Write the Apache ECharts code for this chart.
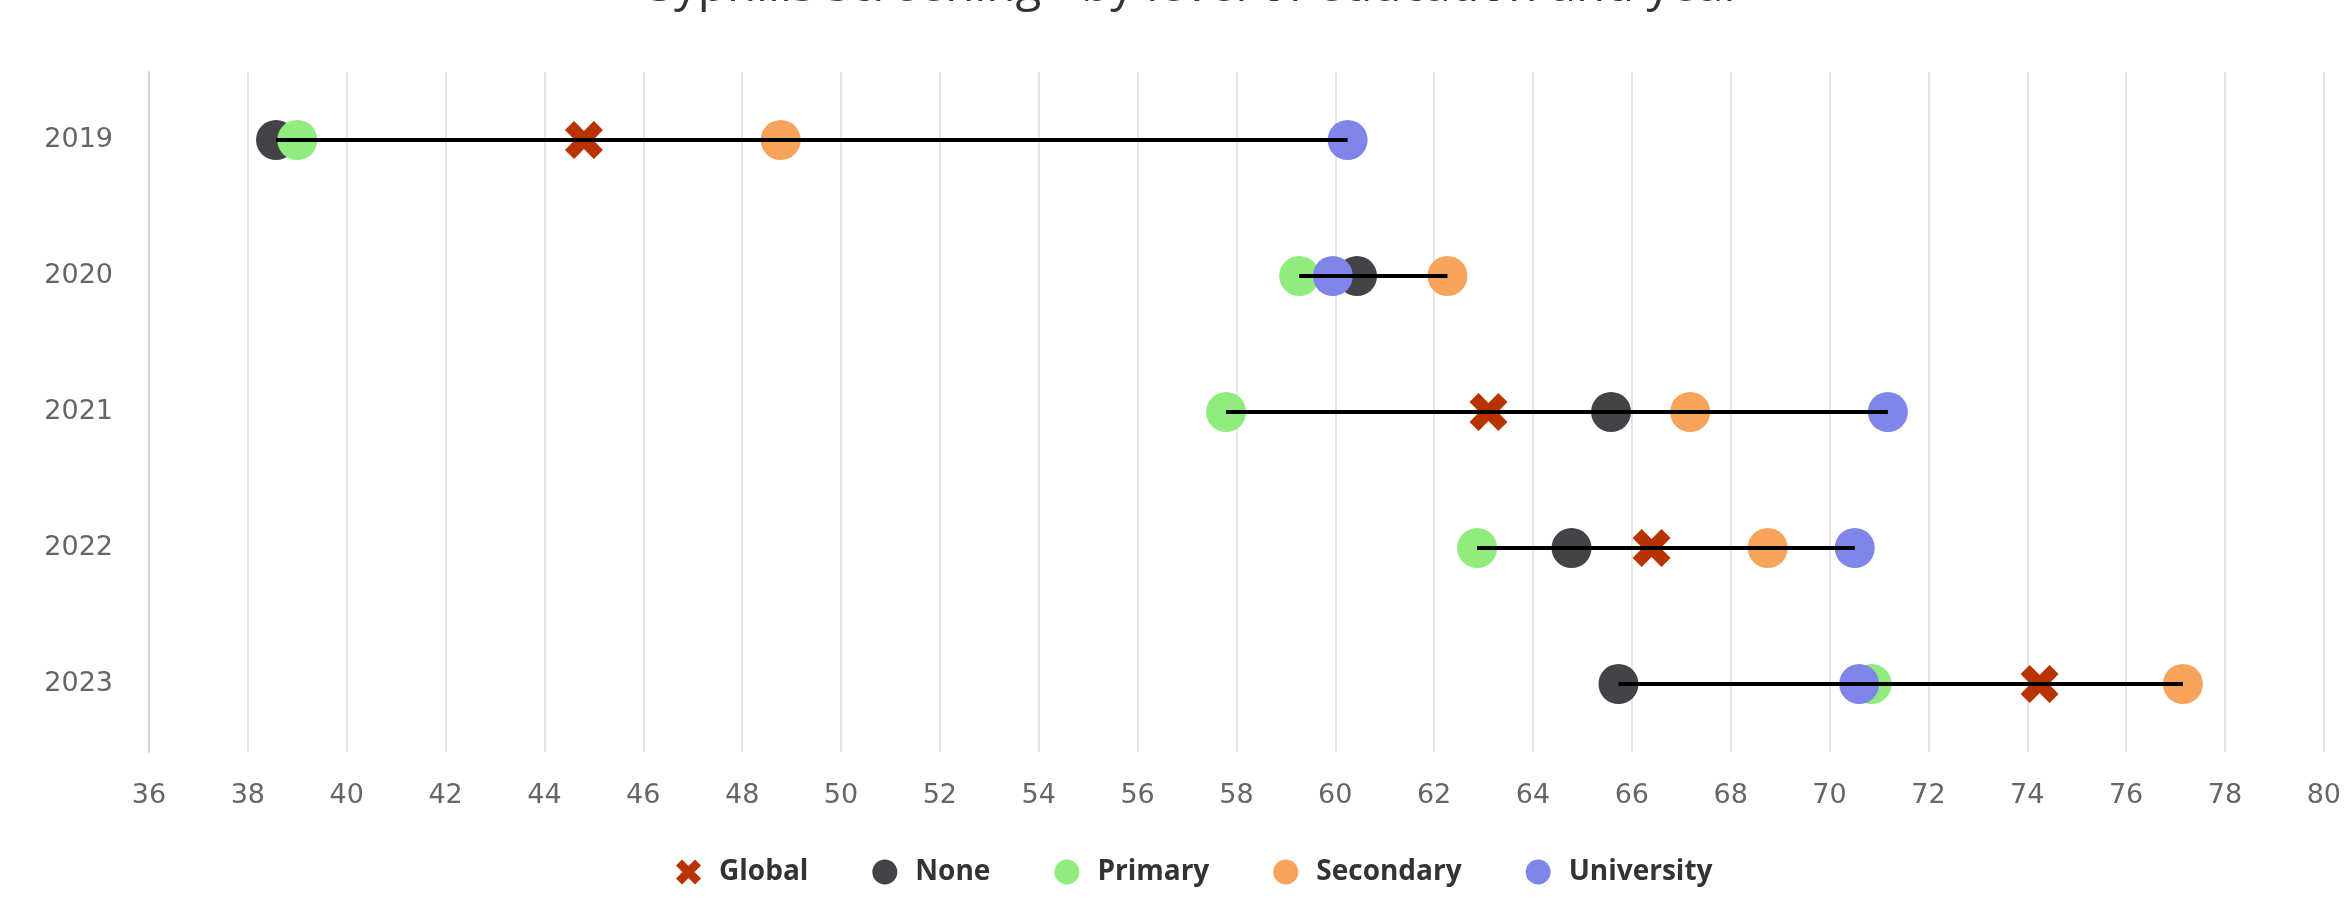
<!DOCTYPE html>
<html>
<head>
<meta charset="utf-8">
<script src="https://cdn.jsdelivr.net/npm/echarts@6/dist/echarts.min.js"></script>
<style>
html,body{margin:0;padding:0;background:#fff;}
#chart{width:2344px;height:907px;}
</style>
</head>
<body>
<div id="chart"></div>
<script>
const categories = ['2019', '2020', '2021', '2022', '2023'];
const globalVals = [44.8, null, 63.1, 66.4, 74.25];
const noneVals = [38.57, 60.44, 65.58, 64.78, 65.73];
const primaryVals = [39.0, 59.27, 57.79, 62.87, 70.85];
const secondaryVals = [48.78, 62.27, 67.18, 68.75, 77.15];
const universityVals = [60.25, 59.95, 71.18, 70.51, 70.60];
const xTicks = { min: 36, max: 80, interval: 2 };
const titleText = 'Syphilis screening - by level of education and year';

const xPath = 'path://M2.4,0 L5,2.6 L7.6,0 L10,2.4 L7.4,5 L10,7.6 L7.6,10 L5,7.4 L2.4,10 L0,7.6 L2.6,5 L0,2.4 Z';
const FONT = '"Open Sans", sans-serif';
const AXFONT = '"DejaVu Sans", sans-serif';

const allSeriesVals = [globalVals, noneVals, primaryVals, secondaryVals, universityVals];
const connectors = categories.map((c, i) => {
  const vs = allSeriesVals.map(a => a[i]).filter(v => v != null);
  return {
    type: 'line',
    data: [[Math.min(...vs), c], [Math.max(...vs), c]],
    symbol: 'none',
    lineStyle: { color: '#000', width: 4 },
    z: 10,
    silent: true,
    animation: false
  };
});

function scatter(name, vals, color, symbol, size, z) {
  return {
    name: name,
    type: 'scatter',
    data: vals.map((v, i) => [v, categories[i]]).filter(d => d[0] != null),
    symbol: symbol,
    symbolSize: size,
    itemStyle: { color: color, opacity: 1 },
    z: z,
    animation: false
  };
}

const chart = echarts.init(document.getElementById('chart'), null, { renderer: 'canvas' });
chart.setOption({
  backgroundColor: '#fff',
  animation: false,
  title: {
    text: titleText,
    left: 643,
    top: -42,
    textStyle: { fontFamily: FONT, fontSize: 47.5, fontWeight: 'normal', color: '#333' }
  },
  grid: { left: 149, right: 6, top: 72, bottom: 155, containLabel: false },
  legend: {
    data: [
      { name: 'Global', icon: xPath },
      { name: 'None', icon: 'circle' },
      { name: 'Primary', icon: 'circle' },
      { name: 'Secondary', icon: 'circle' },
      { name: 'University', icon: 'circle' }
    ],
    left: 671,
    top: 853,
    itemWidth: 25,
    itemHeight: 25,
    itemGap: 64,
    textStyle: { fontFamily: FONT, fontSize: 28, fontWeight: 'bold', color: '#333', padding: [0, 0, 0, 13] }
  },
  xAxis: {
    type: 'value',
    min: xTicks.min,
    max: xTicks.max,
    interval: xTicks.interval,
    axisLine: { show: false },
    axisTick: { show: false },
    axisLabel: { fontFamily: AXFONT, fontSize: 27, color: '#666', margin: 30 },
    splitLine: { show: true, lineStyle: { color: '#e6e6e6', width: 2 } }
  },
  yAxis: {
    type: 'category',
    data: categories,
    inverse: true,
    axisLine: { show: true, lineStyle: { color: '#ccd6eb', width: 2 } },
    axisTick: { show: false },
    axisLabel: { fontFamily: AXFONT, fontSize: 27, color: '#666', margin: 36 },
    splitLine: { show: false }
  },
  series: [
    scatter('Global', globalVals, '#b83300', xPath, 38, 2),
    scatter('None', noneVals, '#434348', 'circle', 40, 3),
    scatter('Primary', primaryVals, '#90ed7d', 'circle', 40, 4),
    scatter('Secondary', secondaryVals, '#f7a35c', 'circle', 40, 5),
    scatter('University', universityVals, '#8085e9', 'circle', 40, 6)
  ].concat(connectors)
});
</script>
</body>
</html>
